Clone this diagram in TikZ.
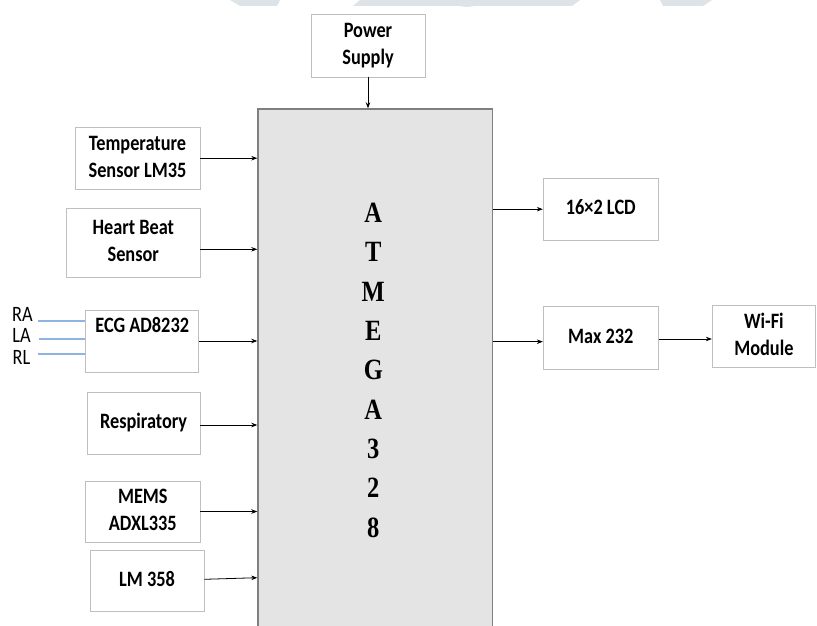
\documentclass[tikz,border=0pt]{standalone}
\usepackage{fontspec}
\usepackage{graphicx}
\setmainfont{Carlito}
\newfontfamily\chipfont{Liberation Serif}
\usetikzlibrary{arrows.meta}
\definecolor{boxgray}{HTML}{BFBFBF}
\definecolor{chipfill}{HTML}{E4E4E4}
\definecolor{chipline}{HTML}{7F7F7F}
\definecolor{wmark}{HTML}{DDE3E6}
\definecolor{leadblue}{HTML}{8DB4E2}
\newcommand\vtext[1]{\scalebox{1}[1.2]{\begin{tabular}{@{}c@{}}#1\end{tabular}}}
\newcommand\vchip[1]{\scalebox{1}[1.2]{\begin{tabular}{@{}c@{}}#1\end{tabular}}}
\tikzset{
  box/.style={draw=boxgray, line width=0.9pt, fill=white, inner sep=0pt,
    font=\fontsize{18.3}{22.5}\selectfont\bfseries},
  lbl/.style={inner sep=0pt, font=\fontsize{18.3}{22.5}\selectfont\bfseries},
  lead/.style={inner sep=0pt, font=\fontsize{18.3}{22.5}\selectfont},
  arr/.style={draw=black, line width=0.8pt, -{Stealth[length=6pt,width=4.5pt]}},
  bluelead/.style={draw=leadblue, line width=1.2pt}
}
\begin{document}
\begin{tikzpicture}[x=1pt,y=-1pt]
\clip (0,0) rectangle (817,626);
\fill[white] (0,0) rectangle (817,626);
% watermark remnants
\fill[wmark] (230,0) -- (280,0) -- (277,6) -- (240,6) -- cycle;
\fill[wmark] (360,0) -- (580,0) -- (572,6) -- (475,6) -- (467,7) -- (459,6) -- (353,6) -- cycle;
\fill[wmark] (660,0) -- (712,0) -- (703,6) -- (663,6) -- cycle;

% microcontroller
\node[draw=chipline, fill=chipfill, line width=1.3pt, minimum width=234.4pt, minimum height=540pt, anchor=north west, inner sep=0pt] (mcu) at (257.3,108.3) {};
\node[inner sep=0pt, font=\fontsize{24.5}{32.75}\selectfont\chipfont\bfseries] (chip) at (373.3,372) {\vchip{A\\T\\M\\E\\G\\A\\3\\2\\8}};

% power supply
\node[box, minimum width=114pt, minimum height=63pt] (ps) at (368,45.5) {\vtext{Power\\Supply}};

% left inputs
\node[box, minimum width=125pt, minimum height=61.7pt] (temp) at (137.5,158.2) {\vtext{Temperature\\Sensor LM35}};
\node[box, minimum width=133.3pt, minimum height=69.4pt] (hb) at (133.3,243) {\vtext{Heart Beat\\Sensor}};
\node[box, minimum width=113pt, minimum height=62pt] (ecg) at (142.2,341) {};
\node[lbl] (ecgtext) at (142.2,327) {\vtext{ECG AD8232}};
\node[box, minimum width=112.7pt, minimum height=62pt] (resp) at (143.6,423.3) {\vtext{Respiratory}};
\node[box, minimum width=114.3pt, minimum height=61pt] (mems) at (142.8,511.5) {\vtext{MEMS\\ADXL335}};
\node[box, minimum width=114pt, minimum height=60.3pt] (lm) at (147,581) {\vtext{LM 358}};

% ECG leads
\node[lead] (ra) at (22.5,316) {\vtext{RA}};
\node[lead] (la) at (21.5,337.5) {\vtext{LA}};
\node[lead] (rl) at (21.5,359) {\vtext{RL}};
\coordinate (raend) at (38,321);
\coordinate (laend) at (39,339);
\coordinate (rlend) at (38,354);
\draw[bluelead] (raend) -- (raend -| ecg.west);
\draw[bluelead] (laend) -- (laend -| ecg.west);
\draw[bluelead] (rlend) -- (rlend -| ecg.west);

% right outputs
\node[box, minimum width=115pt, minimum height=61.7pt] (lcd) at (600.8,209.2) {\vtext{16×2 LCD}};
\node[box, minimum width=115pt, minimum height=62.3pt] (max) at (600.8,337.9) {\vtext{Max 232}};
\node[box, minimum width=103.2pt, minimum height=61.6pt] (wifi) at (763.9,336.5) {\vtext{Wi-Fi\\Module}};

% arrows
\draw[arr] (ps.south) -- (ps.south |- mcu.north);
\draw[arr] (temp.east) -- (temp.east -| mcu.west);
\draw[arr] ([yshift=-6.3pt]hb.east) -- ([yshift=-6.3pt]hb.east -| mcu.west);
\draw[arr] (ecg.east) -- (ecg.east -| mcu.west);
\draw[arr] ([yshift=-1.7pt]resp.east) -- ([yshift=-1.7pt]resp.east -| mcu.west);
\draw[arr] (mems.east) -- (mems.east -| mcu.west);
\draw[arr] ([yshift=1.7pt]lm.east) -- ([yshift=3.3pt]lm.east -| mcu.west);
\draw[arr] (mcu.east |- lcd.west) -- (lcd.west);
\draw[arr] (mcu.east |- 0,341.7) -- (max.west |- 0,341.7);
\draw[arr] ([yshift=-1.1pt]max.east) -- ([yshift=-1.1pt]max.east -| wifi.west);
\end{tikzpicture}
\end{document}
